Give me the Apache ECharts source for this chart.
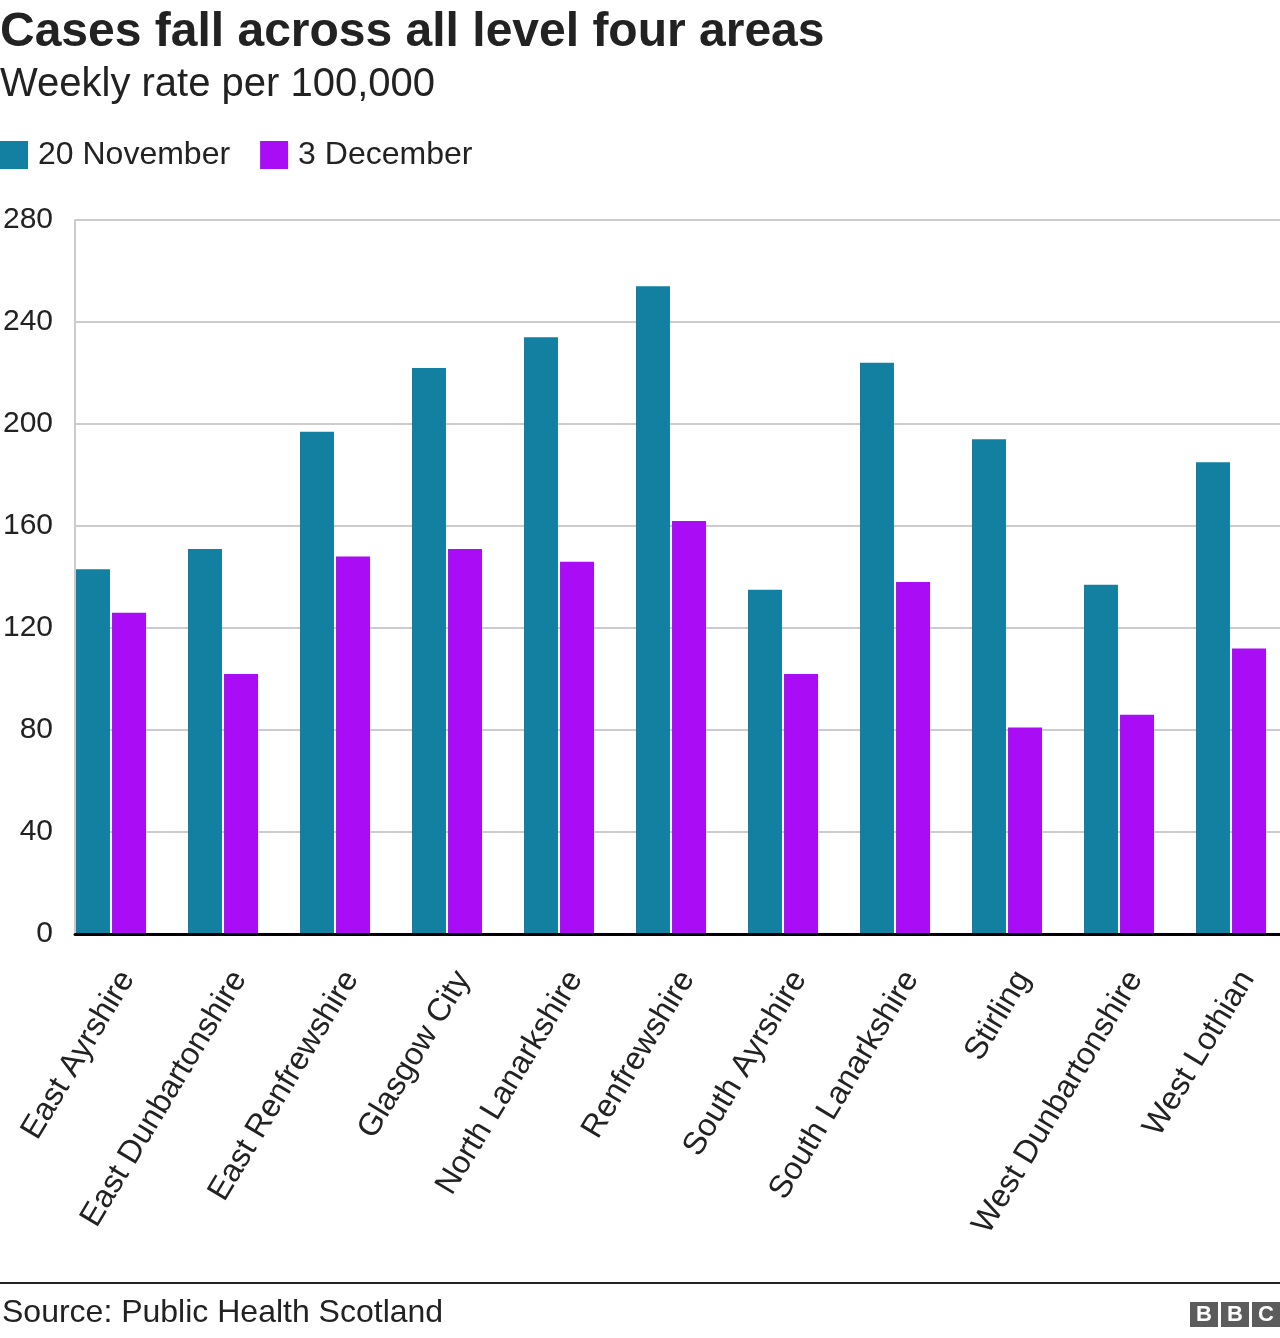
<!DOCTYPE html>
<html>
<head>
<meta charset="utf-8">
<script src="https://cdn.jsdelivr.net/npm/echarts@6/dist/echarts.min.js"></script>
<style>
html,body{margin:0;padding:0;background:#fff;overflow:hidden;}
#chart{width:1290px;height:1338px;}
</style>
</head>
<body>
<div id="chart"></div>
<script>
const categories = ['East Ayrshire','East Dunbartonshire','East Renfrewshire','Glasgow City','North Lanarkshire','Renfrewshire','South Ayrshire','South Lanarkshire','Stirling','West Dunbartonshire','West Lothian'];
const nov20 = [143, 151, 197, 222, 234, 254, 135, 224, 194, 137, 185];
const dec3 = [126, 102, 148, 151, 146, 162, 102, 138, 81, 86, 112];
const seriesNames = ['20 November', '3 December'];
const yTicks = {min: 0, max: 280, interval: 40};

const FONT = 'Liberation Sans, Arial, Helvetica, sans-serif';
const chart = echarts.init(document.getElementById('chart'), null, {renderer: 'canvas'});

const option = {
  backgroundColor: '#fff',
  animation: false,
  textStyle: {fontFamily: FONT},
  legend: {
    left: 0, top: 139, padding: 0,
    itemWidth: 28, itemHeight: 28, itemGap: 30,
    icon: 'rect',
    textStyle: {fontSize: 32, color: '#222', fontFamily: FONT, padding: [0, 0, 0, 5]},
    data: seriesNames
  },
  grid: [
    {left: 55, width: 1232, top: 220, height: 714},
    {left: 75, width: 1205, top: 220, height: 714}
  ],
  xAxis: [
    {
      type: 'category', gridIndex: 0, data: categories,
      axisLine: {show: false}, axisTick: {show: false},
      axisLabel: {rotate: 59, fontSize: 32, color: '#222', margin: 30, interval: 0,
                  verticalAlign: 'top', padding: [3, 0, 0, 0], fontFamily: FONT}
    },
    {
      type: 'value', gridIndex: 1, min: 0, max: 1, z: 5,
      axisLine: {show: true, lineStyle: {color: '#000', width: 3}},
      axisTick: {show: false}, axisLabel: {show: false}, splitLine: {show: false}
    }
  ],
  yAxis: [
    {
      type: 'value', gridIndex: 0, min: yTicks.min, max: yTicks.max, interval: yTicks.interval,
      axisLine: {show: false}, axisTick: {show: false}, axisLabel: {show: false}, splitLine: {show: false}
    },
    {
      type: 'value', gridIndex: 1, min: yTicks.min, max: yTicks.max, interval: yTicks.interval,
      axisLine: {show: true, lineStyle: {color: '#cccccc', width: 2}},
      axisTick: {show: false},
      axisLabel: {fontSize: 30, color: '#222', margin: 22, fontFamily: FONT},
      splitLine: {show: true, lineStyle: {color: '#cccccc', width: 2}}
    }
  ],
  series: [
    {name: seriesNames[0], type: 'bar', xAxisIndex: 0, yAxisIndex: 0, data: nov20,
     barWidth: 34, barGap: '6%', itemStyle: {color: '#1380A1'}},
    {name: seriesNames[1], type: 'bar', xAxisIndex: 0, yAxisIndex: 0, data: dec3,
     barWidth: 34, barGap: '6%', itemStyle: {color: '#A80DF6'}}
  ],
  graphic: [
    {type: 'text', left: 0, top: 9, style: {text: 'Cases fall across all level four areas', font: 'bold 48px ' + FONT, fill: '#222'}},
    {type: 'text', left: 0, top: 65, style: {text: 'Weekly rate per 100,000', font: '40px ' + FONT, fill: '#222'}},
    {type: 'rect', shape: {x: 0, y: 1282, width: 1280, height: 2}, style: {fill: '#222'}},
    {type: 'text', left: 2, top: 1297, style: {text: 'Source: Public Health Scotland', font: '32px ' + FONT, fill: '#222'}},
    {type: 'rect', shape: {x: 1190, y: 1302, width: 28, height: 25}, style: {fill: '#5c5c5c'}},
    {type: 'rect', shape: {x: 1221, y: 1302, width: 28, height: 25}, style: {fill: '#5c5c5c'}},
    {type: 'rect', shape: {x: 1252, y: 1302, width: 28, height: 25}, style: {fill: '#5c5c5c'}},
    {type: 'text', x: 1204, y: 1315, style: {text: 'B', font: 'bold 22px ' + FONT, fill: '#fff', align: 'center', verticalAlign: 'middle'}},
    {type: 'text', x: 1235, y: 1315, style: {text: 'B', font: 'bold 22px ' + FONT, fill: '#fff', align: 'center', verticalAlign: 'middle'}},
    {type: 'text', x: 1266, y: 1315, style: {text: 'C', font: 'bold 22px ' + FONT, fill: '#fff', align: 'center', verticalAlign: 'middle'}}
  ]
};
chart.setOption(option);
</script>
</body>
</html>
